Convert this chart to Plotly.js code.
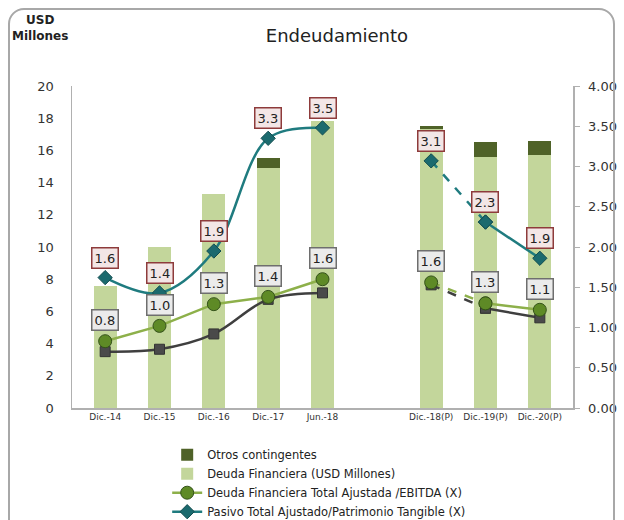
<!DOCTYPE html>
<html>
<head>
<meta charset="utf-8">
<script src="https://cdn.plot.ly/plotly-3.0.1.min.js"></script>
<style>
html,body{margin:0;padding:0;background:#fff;}
#wrap{position:relative;width:624px;height:520px;overflow:hidden;}
#chart{width:624px;height:520px;}
#frame{position:absolute;left:8px;top:8px;width:607px;height:540px;border:2px solid #a8a8a8;border-radius:16px;pointer-events:none;box-sizing:border-box;}
</style>
</head>
<body>
<div id="wrap"><div id="chart"></div><div id="frame"></div></div>
<script>
// ---- data ----
const categories = ["Dic.-14","Dic.-15","Dic.-16","Dic.-17","Jun.-18"," ","Dic.-18(P)","Dic.-19(P)","Dic.-20(P)"];
const deudaFinanciera = [7.6, 10.0, 13.3, 14.9, 17.8, null, 17.3, 15.6, 15.7];
const otrosContingentes = [0, 0, 0, 0.6, 0, null, 0.2, 0.9, 0.9];
const deudaEbitda = [0.83, 1.02, 1.29, 1.38, 1.60, null, 1.56, 1.30, 1.22];
const deudaEbitdaLabels = ["0.8","1.0","1.3","1.4","1.6",null,"1.6","1.3","1.1"];
const pasivoPatrimonio = [1.62, 1.43, 1.95, 3.35, 3.48, null, 3.07, 2.31, 1.86];
const pasivoPatrimonioLabels = ["1.6","1.4","1.9","3.3","3.5",null,"3.1","2.3","1.9"];
const otroIndicador = [0.70, 0.73, 0.92, 1.35, 1.43, null, 1.53, 1.24, 1.12];
const yLeftTicks = [0,2,4,6,8,10,12,14,16,18,20];
const yRightTicks = [0,0.5,1,1.5,2,2.5,3,3.5,4];

// ---- styles ----
const C_OTROS = "#4f6228";
const C_DEUDA = "#c3d69b";
const C_GREEN_LINE = "#8db04a";
const C_GREEN_MK = "#5e8a26";
const C_TEAL = "#1f7b7f";
const C_GRAY = "#3f3f3f";
const FONT = "DejaVu Sans";

const hist = [0,1,2,3,4];
const projA = [6,7];
const projB = [7,8];
function pick(arr, idx){ return idx.map(i => arr[i]); }

function lineSeries(name, vals, color, mkColor, mkLine, symbol, size, shape, rank, showLeg){
  const out = [];
  const segs = [[hist,"solid",shape],[projA,"dash","linear"],[projB,"solid","linear"]];
  segs.forEach((s,k) => {
    out.push({
      type:"scatter", mode:"lines+markers", name:name,
      x: pick(categories, s[0]), y: pick(vals, s[0]), yaxis:"y2",
      line:{color:color, width:2.5, dash:s[1], shape:s[2], smoothing:1},
      marker:{symbol:symbol, size:size, color:mkColor, line:{color:mkLine, width:1}},
      showlegend: showLeg && k===0, legendrank:rank, legendgroup:name, hoverinfo:"skip"
    });
  });
  return out;
}

const traces = [
  {type:"bar", name:"Deuda Financiera (USD Millones)", x:categories, y:deudaFinanciera,
   marker:{color:C_DEUDA}, width:0.42, legendrank:2},
  {type:"bar", name:"Otros contingentes", x:categories, y:otrosContingentes,
   marker:{color:C_OTROS}, width:0.42, legendrank:1},
  ...lineSeries("Indicador", otroIndicador, C_GRAY, "#4a4a4a", "#333", "square", 10, "spline", 5, false),
  ...lineSeries("Deuda Financiera Total Ajustada /EBITDA (X)", deudaEbitda, C_GREEN_LINE, C_GREEN_MK, "#34521a", "circle", 13, "linear", 3, true),
  ...lineSeries("Pasivo Total Ajustado/Patrimonio Tangible (X)", pasivoPatrimonio, C_TEAL, "#1b6a6e", "#134d50", "diamond", 11, "spline", 4, true)
];

const annotations = [];
categories.forEach((c,i) => {
  if (deudaEbitdaLabels[i] !== null) {
    annotations.push({x:c, y:deudaEbitda[i], xref:"x", yref:"y2", text:deudaEbitdaLabels[i],
      showarrow:false, yshift:21, font:{family:FONT, size:13, color:"#222"},
      bgcolor:"#ebebeb", bordercolor:"#6e6e6e", borderwidth:1.5, borderpad:2});
  }
  if (pasivoPatrimonioLabels[i] !== null) {
    annotations.push({x:c, y:pasivoPatrimonio[i], xref:"x", yref:"y2", text:pasivoPatrimonioLabels[i],
      showarrow:false, yshift:20, font:{family:FONT, size:13, color:"#222"},
      bgcolor:"#f3e6e6", bordercolor:"#8e3b3b", borderwidth:1.5, borderpad:2});
  }
});
annotations.push({xref:"paper", yref:"paper", x:-0.064, y:1.18, xanchor:"center", yanchor:"middle",
  text:"<b>USD<br>Millones</b>", showarrow:false, align:"center", font:{family:FONT, size:12, color:"#222"}});

const layout = {
  width:624, height:520,
  margin:{l:72, r:51, t:86, b:112, autoexpand:false},
  paper_bgcolor:"#fff", plot_bgcolor:"#fff",
  font:{family:FONT, color:"#333"},
  title:{text:"Endeudamiento", x:0.54, xanchor:"center", y:0.932, yanchor:"middle",
    font:{family:FONT, size:18, color:"#222"}},
  barmode:"stack",
  showlegend:true,
  legend:{x:0.19, y:-0.1, xanchor:"left", yanchor:"top", orientation:"v",
    font:{family:FONT, size:11.5, color:"#222"}, tracegroupgap:0, itemwidth:30, bgcolor:"rgba(0,0,0,0)"},
  xaxis:{type:"category", categoryorder:"array", categoryarray:categories,
    showline:true, linecolor:"#b0b0b0", linewidth:1.5, ticks:"", showgrid:false,
    tickfont:{family:FONT, size:9, color:"#333"}, fixedrange:true},
  yaxis:{range:[0,20], tickvals:yLeftTicks, showgrid:false, zeroline:false,
    showline:true, linecolor:"#b0b0b0", linewidth:1.5, ticks:"", ticklabelstandoff:14,
    tickfont:{family:FONT, size:13, color:"#333"}},
  yaxis2:{overlaying:"y", side:"right", range:[0,4], tickvals:yRightTicks, tickformat:".2f",
    showgrid:false, zeroline:false, showline:true, linecolor:"#b0b0b0", linewidth:1.5,
    ticks:"outside", ticklen:5, tickcolor:"#b0b0b0", ticklabelstandoff:6,
    tickfont:{family:FONT, size:13, color:"#333"}},
  annotations:annotations
};

Plotly.newPlot("chart", traces, layout, {staticPlot:true, displayModeBar:false});
</script>
</body>
</html>
